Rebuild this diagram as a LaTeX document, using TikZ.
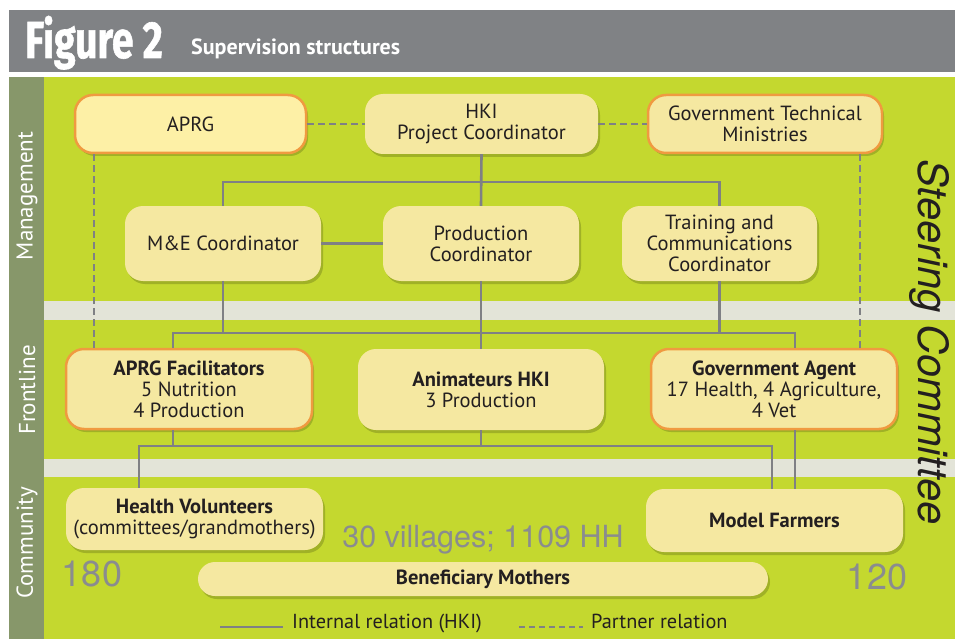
\documentclass[tikz,border=0pt]{standalone}
\usepackage{fontspec}
\setmainfont{PT Sans}
\newfontfamily\helv{TeX Gyre Heros}
\newfontfamily\figf{Fira Sans}[FakeBold=1.2]
\usetikzlibrary{shadows}
\definecolor{bggreen}{HTML}{C4D82F}
\definecolor{sidegreen}{HTML}{87976A}
\definecolor{bandgrey}{HTML}{E3E4D8}
\definecolor{headgrey}{HTML}{808285}
\definecolor{nodefill}{HTML}{F5E8A1}
\definecolor{nodelight}{HTML}{FDF0A6}
\definecolor{orangeb}{HTML}{F09A40}
\definecolor{linegrey}{HTML}{7F8084}
\definecolor{txt}{HTML}{231F20}
\definecolor{numgrey}{HTML}{8A8C8F}
\begin{document}
\begin{tikzpicture}[x=1pt,y=-1pt,
  box/.style={fill=nodefill, rounded corners=18pt, align=center, inner sep=0pt,
    font=\fontsize{20.5}{21}\selectfont, text=txt,
    drop shadow={shadow xshift=2pt, shadow yshift=-3pt, opacity=0.18, fill=black}},
  obox/.style={box, draw=orangeb, line width=2.5pt},
  int/.style={draw=linegrey, line width=2.6pt},
  part/.style={draw=linegrey, line width=2.2pt, dash pattern=on 7pt off 4pt},
  side/.style={rotate=90, text=white, font=\fontsize{23}{23}\selectfont},
  bignum/.style={text=numgrey, font=\helv\fontsize{36}{36}\selectfont},
  legtext/.style={text=txt, font=\fontsize{20.3}{20.3}\selectfont, anchor=base west, inner sep=0pt}]
\useasboundingbox (0,0) rectangle (955,639);
% header and background
\fill[white] (0,0) rectangle (955,639);
\fill[headgrey] (9,10) rectangle (955,72);
\fill[bggreen] (9,77) rectangle (955,639);
\fill[sidegreen] (9,77) rectangle (44,639);
\fill[bandgrey] (44,301) rectangle (955,320);
\fill[bandgrey] (44,459) rectangle (955,477);
\node[anchor=base west, text=white, inner sep=0pt] (fig) at (25,58)
  {\scalebox{0.75}[1]{\figf\bfseries\fontsize{52}{52}\selectfont Figure 2}};
\node[anchor=base west, text=white, inner sep=0pt, font=\bfseries\fontsize{22}{22}\selectfont] (sub) at (191,55) {Supervision structures};
% side labels
\node[side] (lman) at (27,196) {Management};
\node[side] (lfront) at (27,390) {Frontline};
\node[side] (lcomm) at (27,543) {Community};
% steering committee
\node[rotate=-90, text=txt, font=\helv\itshape\fontsize{41.5}{41.5}\selectfont] (steer) at (929,342) {Steering Committee};
% boxes
\node[obox, fill=nodelight, minimum width=231pt, minimum height=58pt] (aprg) at (190.5,124) {APRG};
\node[box, minimum width=233pt, minimum height=60pt] (hki) at (481.5,124) {HKI\\Project Coordinator};
\node[obox, minimum width=234pt, minimum height=58pt] (gtm) at (765,124) {Government Technical\\Ministries};
\node[box, minimum width=196pt, minimum height=75pt] (me) at (223,243.5) {M\&E Coordinator};
\node[box, minimum width=196pt, minimum height=75pt] (prod) at (481,243.5) {Production\\Coordinator};
\node[box, minimum width=195pt, minimum height=75pt] (tc) at (719.5,243.5) {Training and\\Communications\\Coordinator};
\node[obox, minimum width=246pt, minimum height=80pt] (fac) at (189,389) {\textbf{APRG Facilitators}\\5 Nutrition\\4 Production};
\node[box, minimum width=246pt, minimum height=81pt] (anim) at (481,389.5) {\textbf{Animateurs HKI}\\3 Production};
\node[obox, minimum width=246pt, minimum height=80pt] (ga) at (774,389) {\textbf{Government Agent}\\17 Health, 4 Agriculture,\\4 Vet};
\node[box, minimum width=257pt, minimum height=62pt] (hv) at (194.5,519) {\textbf{Health Volunteers}\\(committees/grandmothers)};
\node[box, minimum width=257pt, minimum height=63pt] (mf) at (774.5,520.5) {\textbf{Model Farmers}};
\node[box, rounded corners=17pt, minimum width=570pt, minimum height=34pt] (bm) at (483,579) {\textbf{Beneficiary Mothers}};
% grey numbers
\node[text=numgrey, font=\helv\fontsize{30.5}{30.5}\selectfont, anchor=base] (vill) at (483,547) {30 villages; 1109 HH};
\node[bignum, anchor=base] (n180) at (92,586) {180};
\node[bignum, anchor=base] (n120) at (877,589) {120};
% helper coordinates
\coordinate (hbus) at (481,182);
\coordinate (ubusL) at (173,333);
\coordinate (ubusR) at (795,333);
\coordinate (lbusL) at (139,446);
\coordinate (lbusR) at (772,446);
\coordinate (dL) at (94,0);
\coordinate (dR) at (860,0);
% partner relations
\draw[part] (aprg.east) -- (hki.west);
\draw[part] (hki.east) -- (gtm.west);
\draw[part] (aprg.south -| dL) -- (fac.north -| dL);
\draw[part] (gtm.south -| dR) -- (ga.north -| dR);
% internal relations
\draw[int] (hki.south) -- (prod.north);
\draw[int] (me.north) |- (hbus) -| (tc.north);
\draw[int] (me.east) -- (prod.west);
\draw[int] (prod.south) -- (anim.north);
\draw[int] (me.south) -- (me.south |- ubusL);
\draw[int] (tc.south) -- (tc.south |- ubusL);
\draw[int] (fac.north -| ubusL) -- (ubusL) -- (ubusR) -- (ga.north -| ubusR);
\draw[int] (fac.south -| ubusL) -- (ubusL |- lbusL);
\draw[int] (anim.south) -- (anim.south |- lbusL);
\draw[int] (hv.north -| lbusL) -- (lbusL) -- (lbusR) -- (mf.north -| lbusR);
\draw[int] (ga.south -| ubusR) -- (mf.north -| ubusR);
% legend
\node[legtext] (leg1) at (292,628) {Internal relation (HKI)};
\node[legtext] (leg2) at (591,628) {Partner relation};
\draw[int] (220,627) -- (283,627);
\draw[part, dash pattern=on 6pt off 4pt] (519,627) -- (583,627);
\end{tikzpicture}
\end{document}
